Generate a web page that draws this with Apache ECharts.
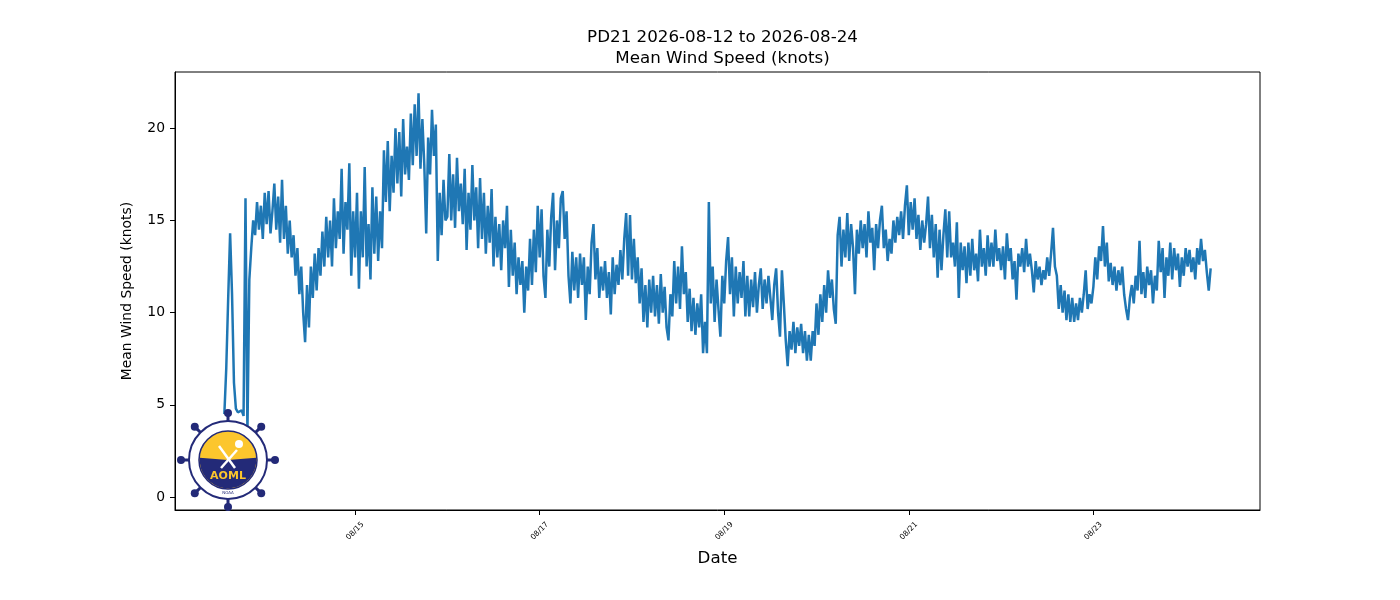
<!DOCTYPE html>
<html><head><meta charset="utf-8">
<script src="https://cdn.jsdelivr.net/npm/echarts@6/dist/echarts.min.js"></script>
<style>html,body{margin:0;padding:0;background:#fff}#c{width:1400px;height:600px}</style>
</head><body><div id="c"></div>
<script>
const titleText = 'PD21 2026-08-12 to 2026-08-24\nMean Wind Speed (knots)';
const yAxisName = 'Mean Wind Speed (knots)';
const xAxisName = 'Date';
const xTickLabels = ['08/15','08/17','08/19','08/21','08/23'];
const yTickValues = [0,5,10,15,20];

// Mean wind speed (knots), 30-minute samples
const day13 = [4.5,7,10.8,14.3,11,6.2,4.8,4.6,4.5,4.7,4.4,16.2,3.5,11.8,13.5,15,14.2,16.0,14.5,15.8]; // from 14:00
const day14 = [14.0,16.5,14.8,16.6,14.3,15.5,17.0,14.5,16.3,13.8,17.2,14.0,15.8,13.2,15.0,13.0,14.2,12.0,13.5,11.0,12.5,10.0,8.4,11.5,9.2,12.5,10.8,13.2,11.2,13.5,12.0,14.4,12.5,15.2,13.0,15.0,12.5,16.2,13.5,15.5,14.0,17.8,13.2,16.0,14.5,18.1,12.0,15.5];
const day15 = [13.0,16.5,11.3,15.5,13.0,17.9,12.5,14.8,11.8,16.8,13.2,16.3,12.8,15.5,13.5,18.8,16.0,19.3,15.5,18.5,16.5,20.0,17.0,19.8,16.3,20.5,17.5,19.0,17.2,20.8,18.0,21.3,18.5,21.9,17.8,20.5,18.0,14.3,19.5,17.5,21.0,18.5,20.2,12.8,16.5,14.2,17.2,15.0];
const day16 = [15.2,18.6,15.0,17.5,14.6,18.4,15.5,17.0,14.8,17.8,13.4,16.5,14.5,18.0,15.0,16.8,13.5,17.3,14.0,16.5,13.2,15.8,13.8,16.7,12.5,15.2,13.0,14.8,12.3,15.0,13.5,15.8,11.4,14.5,12.0,13.8,11.0,13.0,11.5,12.8,10.0,12.5,11.2,14.0,11.5,14.5,12.2,15.8];
const day17 = [13.0,15.6,12.0,10.8,14.5,12.5,15.2,16.5,12.3,15.0,13.5,16.2,16.6,14.0,15.5,12.0,10.5,13.3,11.2,13.0,10.8,13.2,11.5,13.0,9.6,12.5,11.0,13.8,14.8,11.8,13.5,10.8,12.5,11.2,12.8,10.8,12.2,9.9,13.0,11.0,12.6,11.5,13.4,11.8,14.0,15.4,12.0,15.3];
const day18 = [11.8,14.0,11.6,13.0,10.5,12.4,9.5,11.5,9.2,11.8,10.0,12.0,9.8,11.5,9.4,12.1,10.0,11.4,9.2,8.5,11.0,9.8,12.8,10.5,12.5,10.2,13.6,11.0,12.2,9.5,11.3,9.0,10.8,8.8,10.5,9.2,11.0,7.8,9.5,7.8,16.0,10.5,12.5,9.5,11.8,10.2,8.7,12.0];
const day19 = [10.5,12.8,14.1,11.0,13.0,9.8,12.5,10.5,12.2,10.8,12.8,9.8,12.0,9.8,11.8,10.3,12.2,10.0,11.5,12.4,10.2,11.8,10.5,12.0,10.8,9.6,11.5,12.4,10.0,8.7,12.3,10.5,8.5,7.1,9.0,8.0,9.5,7.8,9.2,8.2,9.4,7.8,9.0,7.4,8.8,7.4,9.0,8.2];
const day20 = [10.5,8.8,11.0,9.5,11.5,10.0,12.3,10.8,11.8,10.2,9.4,14.2,15.2,12.5,14.5,13.0,15.4,12.8,14.8,13.5,11.0,14.5,13.2,15.0,13.5,14.8,13.0,15.5,13.8,14.6,12.3,14.8,13.5,15.0,15.8,13.5,14.5,12.8,14.0,13.2,15.0,13.8,15.2,14.2,15.5,14.0,15.8,16.9];
const day21 = [14.2,16.0,14.5,16.2,14.0,15.3,13.4,15.0,13.8,14.8,16.3,13.5,15.3,13.0,14.8,11.9,14.5,12.3,14.2,15.6,13.0,15.5,13.0,13.8,12.5,14.9,10.8,13.8,12.3,13.6,11.6,13.8,12.0,14.0,12.3,13.2,11.7,14.5,12.5,13.5,12.0,14.2,12.5,13.8,12.5,14.5,12.8,13.5];
const day22 = [12.3,13.6,11.8,14.3,12.8,13.5,11.8,12.8,10.7,13.2,12.5,13.5,12.2,14.0,12.5,13.2,12.3,11.1,12.8,11.8,12.5,11.5,12.3,11.8,13.0,12.0,13.2,14.6,12.5,12.0,10.2,11.5,10.0,11.2,9.6,11.0,9.5,10.8,9.5,10.5,9.6,10.8,10.0,11.0,12.3,10.2,11.0,10.5];
const day23 = [11.4,13.0,11.8,13.6,12.8,14.7,12.5,13.8,11.7,12.7,11.5,12.5,11.2,12.3,11.5,12.5,11.0,10.2,9.6,10.8,11.5,10.5,12.0,11.2,13.9,11.0,12.2,10.8,12.5,11.5,12.3,10.5,12.0,11.2,13.9,12.2,13.5,10.8,13.0,12.0,13.8,11.8,13.5,12.3,13.2,11.4,13.0,12.0];
const day24 = [13.5,12.5,13.4,12.2,13.0,11.8,13.5,12.6,14.0,12.8,13.4,12.2,11.2,12.4];

const STEP = 30 * 60 * 1000;
const days = [
  [day13, Date.UTC(2026,7,13,14,0)],
  [day14, Date.UTC(2026,7,14)], [day15, Date.UTC(2026,7,15)], [day16, Date.UTC(2026,7,16)],
  [day17, Date.UTC(2026,7,17)], [day18, Date.UTC(2026,7,18)], [day19, Date.UTC(2026,7,19)],
  [day20, Date.UTC(2026,7,20)], [day21, Date.UTC(2026,7,21)], [day22, Date.UTC(2026,7,22)],
  [day23, Date.UTC(2026,7,23)], [day24, Date.UTC(2026,7,24)]
];
const seriesData = [];
days.forEach(([arr, t0]) => arr.forEach((v, i) => seriesData.push([t0 + i * STEP, v])));

const xTickValues = xTickLabels.map(s => { const [m, d] = s.split('/').map(Number); return Date.UTC(2026, m - 1, d); });
const pad = n => String(n).padStart(2, '0');
const fmtDate = v => { const d = new Date(v); return pad(d.getUTCMonth() + 1) + '/' + pad(d.getUTCDate()); };

// AOML logo (decoration)
const cx = 228, cy = 460, navy = '#232a78', yellow = '#fcc62d';
const logo = [];
for (let k = 0; k < 8; k++) {
  const a = k * Math.PI / 4;
  logo.push({ type: 'line', z: 100, shape: { x1: cx + 36 * Math.cos(a), y1: cy + 36 * Math.sin(a), x2: cx + 45 * Math.cos(a), y2: cy + 45 * Math.sin(a) }, style: { stroke: navy, lineWidth: 3 } });
  logo.push({ type: 'circle', z: 100, shape: { cx: cx + 47 * Math.cos(a), cy: cy + 47 * Math.sin(a), r: 4 }, style: { fill: navy } });
}
logo.push({ type: 'circle', z: 101, shape: { cx: cx, cy: cy, r: 39 }, style: { fill: '#fff', stroke: navy, lineWidth: 2 } });
logo.push({ type: 'circle', z: 102, shape: { cx: cx, cy: cy, r: 29 }, style: { fill: yellow, stroke: navy, lineWidth: 1.5 } });
logo.push({ type: 'sector', z: 103, shape: { cx: cx, cy: cy, r: 28.3, r0: 0, startAngle: -0.08, endAngle: Math.PI + 0.08, clockwise: true }, style: { fill: navy } });
logo.push({ type: 'line', z: 104, shape: { x1: cx - 9, y1: cy - 14, x2: cx + 7, y2: cy + 8 }, style: { stroke: '#fff', lineWidth: 2.5 } });
logo.push({ type: 'line', z: 104, shape: { x1: cx + 9, y1: cy - 10, x2: cx - 7, y2: cy + 8 }, style: { stroke: '#fff', lineWidth: 2.5 } });
logo.push({ type: 'circle', z: 104, shape: { cx: cx + 11, cy: cy - 16, r: 4 }, style: { fill: '#fff' } });
logo.push({ type: 'text', z: 105, x: cx, y: cy + 16, style: { text: 'AOML', fill: yellow, font: 'bold 11px "DejaVu Sans"', align: 'center', verticalAlign: 'middle' } });
logo.push({ type: 'text', z: 105, x: cx, y: cy + 33, style: { text: 'NOAA', fill: navy, font: '4px "DejaVu Sans"', align: 'center', verticalAlign: 'middle' } });

const chart = echarts.init(document.getElementById('c'));
chart.setOption({
  animation: false,
  backgroundColor: '#fff',
  title: {
    text: titleText, left: 717.5, top: 22, textAlign: 'center',
    textStyle: { fontFamily: 'DejaVu Sans', fontSize: 16.7, fontWeight: 'normal', color: '#000', lineHeight: 21 }
  },
  grid: { left: 175, right: 140, top: 72, bottom: 90, show: true, borderColor: '#000', borderWidth: 1, containLabel: false },
  xAxis: {
    type: 'value',
    min: Date.UTC(2026,7,13,1,10), max: Date.UTC(2026,7,24,19,20),
    name: xAxisName, nameLocation: 'middle', nameGap: 40,
    nameTextStyle: { fontFamily: 'DejaVu Sans', fontSize: 16.7, color: '#000' },
    axisLine: { show: true, onZero: false, lineStyle: { color: '#000', width: 1 } },
    axisTick: { show: true, length: 5, lineStyle: { color: '#000' }, customValues: xTickValues },
    axisLabel: { customValues: xTickValues, formatter: fmtDate, rotate: 45, align: 'center', verticalAlign: 'middle', margin: 21,
      fontFamily: 'DejaVu Sans', fontSize: 7.5, color: '#000', hideOverlap: false },
    splitLine: { show: false }
  },
  yAxis: {
    type: 'value', min: -0.7, max: 23.05,
    name: yAxisName, nameLocation: 'middle', nameGap: 41, nameRotate: 90,
    nameTextStyle: { fontFamily: 'DejaVu Sans', fontSize: 13.9, color: '#000' },
    axisLine: { show: true, onZero: false, lineStyle: { color: '#000', width: 1 } },
    axisTick: { show: true, length: 5, lineStyle: { color: '#000' }, customValues: yTickValues },
    axisLabel: { customValues: yTickValues, margin: 10, fontFamily: 'DejaVu Sans', fontSize: 13.9, color: '#000' },
    splitLine: { show: false }
  },
  series: [{
    type: 'line', data: seriesData, showSymbol: false, symbol: 'none',
    lineStyle: { color: '#1f77b4', width: 2.5 }, z: 2
  }],
  graphic: { elements: logo }
});
</script>
</body></html>
